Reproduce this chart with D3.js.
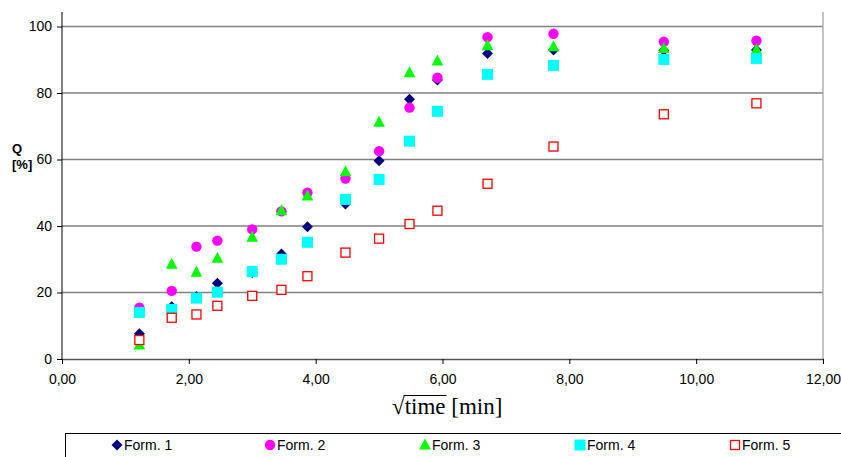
<!DOCTYPE html>
<html>
<head>
<meta charset="utf-8">
<script src="https://cdn.jsdelivr.net/npm/d3@7"></script>
<style>
  body { margin: 0; background: #fff; }
  svg { display: block; }
  .tick text { font-family: "Liberation Sans", Arial, sans-serif; font-size: 14px; fill: #000; }
</style>
</head>
<body>
<div id="chart"></div>
<script>
// sqrt(time) values, x axis
var sqrtTime = [1.22, 1.73, 2.12, 2.45, 3.00, 3.46, 3.87, 4.47, 5.00, 5.48, 5.92, 6.71, 7.75, 9.49, 10.95];

var form1 = [7.6, 15.7, 18.8, 22.8, 26.0, 31.6, 39.8, 46.6, 59.6, 78.1, 83.9, 91.9, 92.9, 92.8, 92.9];
var form2 = [15.4, 20.5, 33.8, 35.6, 39.0, 44.4, 50.0, 54.3, 62.5, 75.6, 84.6, 96.8, 97.8, 95.4, 95.7];
var form3 = [4.2, 28.5, 26.1, 30.3, 36.6, 44.6, 49.0, 56.3, 71.2, 86.1, 89.6, 94.2, 93.9, 93.4, 93.1];
var form4 = [14.0, 14.9, 18.3, 20.1, 26.3, 30.0, 35.1, 48.0, 54.0, 65.5, 74.5, 85.6, 88.3, 90.1, 90.4];
var form5 = [5.7, 12.4, 13.4, 16.0, 19.0, 20.8, 24.9, 32.0, 36.2, 40.6, 44.6, 52.7, 63.9, 73.6, 76.9];

var seriesNames = ["Form. 1", "Form. 2", "Form. 3", "Form. 4", "Form. 5"];
var xTicks = [0, 2, 4, 6, 8, 10, 12];
var yTicks = [0, 20, 40, 60, 80, 100];

var series = [
  { name: seriesNames[0], values: form1, shape: "diamond",  fill: "#000080", stroke: "none" },
  { name: seriesNames[1], values: form2, shape: "circle",   fill: "#FF00FF", stroke: "none" },
  { name: seriesNames[2], values: form3, shape: "triangle", fill: "#00FF00", stroke: "none" },
  { name: seriesNames[3], values: form4, shape: "square",   fill: "#00FFFF", stroke: "none" },
  { name: seriesNames[4], values: form5, shape: "open",     fill: "#FFFFFF", stroke: "#FF0000" }
];

var W = 841, H = 457;
var plotL = 62, plotR = 823, plotT = 26.5, plotB = 359;

var svg = d3.select("#chart").append("svg").attr("width", W).attr("height", H);

var x = d3.scaleLinear().domain([0, 12]).range([plotL, plotR]);
var y = d3.scaleLinear().domain([0, 100]).range([plotB, plotT]);

var loc = d3.formatLocale({ decimal: ",", thousands: ".", grouping: [3], currency: ["", ""] });
var fmt2 = loc.format(".2f");

// gridlines
svg.append("g").selectAll("line").data(yTicks.slice(1)).enter().append("line")
  .attr("x1", plotL).attr("x2", plotR)
  .attr("y1", function (d) { return y(d); }).attr("y2", function (d) { return y(d); })
  .style("stroke", "#808080").style("stroke-width", 1.3);

// right border of plot area
svg.append("line").attr("x1", plotR).attr("x2", plotR).attr("y1", 12).attr("y2", plotB)
  .style("stroke", "#b0b0b0").style("stroke-width", 1.5);

// axes
var xAxis = svg.append("g").attr("transform", "translate(0," + plotB + ")")
  .call(d3.axisBottom(x).tickValues(xTicks).tickFormat(fmt2).tickSize(5).tickSizeOuter(0));
xAxis.select(".domain").style("stroke", "#555").style("stroke-width", 1.5);
xAxis.selectAll(".tick text").attr("dy", "1.2em");

var yAxis = svg.append("g").attr("transform", "translate(" + plotL + ",0)")
  .call(d3.axisLeft(y).tickValues(yTicks).tickSize(5).tickSizeOuter(0));
yAxis.select(".domain").remove();
svg.append("line").attr("x1", plotL).attr("x2", plotL).attr("y1", 12).attr("y2", plotB)
  .style("stroke", "#000").style("stroke-width", 1);
yAxis.selectAll(".tick text").attr("x", -10);

// markers
function drawMarker(g, shape, fill, stroke) {
  if (shape === "diamond") {
    g.append("path").attr("d", "M0,-5.5L5.5,0L0,5.5L-5.5,0Z").style("fill", fill);
  } else if (shape === "circle") {
    g.append("circle").attr("r", 5.2).style("fill", fill);
  } else if (shape === "triangle") {
    g.append("path").attr("d", "M0,-6.5L5.8,4.5L-5.8,4.5Z").style("fill", fill);
  } else if (shape === "square") {
    g.append("rect").attr("x", -5.5).attr("y", -5.5).attr("width", 11).attr("height", 11).style("fill", fill);
  } else {
    g.append("rect").attr("x", -4.5).attr("y", -4.5).attr("width", 9).attr("height", 9)
      .style("fill", fill).style("stroke", stroke).style("stroke-width", 1.3);
  }
}

series.forEach(function (s) {
  var g = svg.append("g");
  s.values.forEach(function (v, i) {
    var m = g.append("g").attr("transform", "translate(" + x(sqrtTime[i]) + "," + y(v) + ")");
    drawMarker(m, s.shape, s.fill, s.stroke);
  });
});

// y axis title
var yt = svg.append("text").style("font-family", "Liberation Sans, Arial, sans-serif")
  .style("font-size", "13px").style("font-weight", "bold");
yt.append("tspan").attr("x", 12).attr("y", 153).text("Q");
yt.append("tspan").attr("x", 12).attr("y", 169).text("[%]");

// x axis title: radical sign with overline over "time"
var xt = svg.append("text").attr("x", 392).attr("y", 414)
  .style("font-family", "Liberation Serif, Times New Roman, serif").style("font-size", "23px");
xt.append("tspan").text("\u221A");
xt.append("tspan").text("time");
xt.append("tspan").text(" [min]");
var rb = xt.node().getExtentOfChar(0);
var tEnd = xt.node().getEndPositionOfChar(4).x;
svg.append("line").attr("x1", rb.x + rb.width - 1).attr("x2", tEnd + 1)
  .attr("y1", rb.y + 1.5).attr("y2", rb.y + 1.5)
  .style("stroke", "#000").style("stroke-width", 1);

// legend
var lg = svg.append("g");
lg.append("rect").attr("x", 65.5).attr("y", 433.5).attr("width", 800).attr("height", 40)
  .style("fill", "#fff").style("stroke", "#000").style("stroke-width", 1);
var legendX = [117, 270, 425, 580, 735];
series.forEach(function (s, i) {
  var m = lg.append("g").attr("transform", "translate(" + legendX[i] + ",445)");
  drawMarker(m, s.shape, s.fill, s.stroke);
  lg.append("text").attr("x", legendX[i] + 7).attr("y", 450)
    .style("font-family", "Liberation Sans, Arial, sans-serif").style("font-size", "14px")
    .text(s.name);
});
</script>
</body>
</html>
